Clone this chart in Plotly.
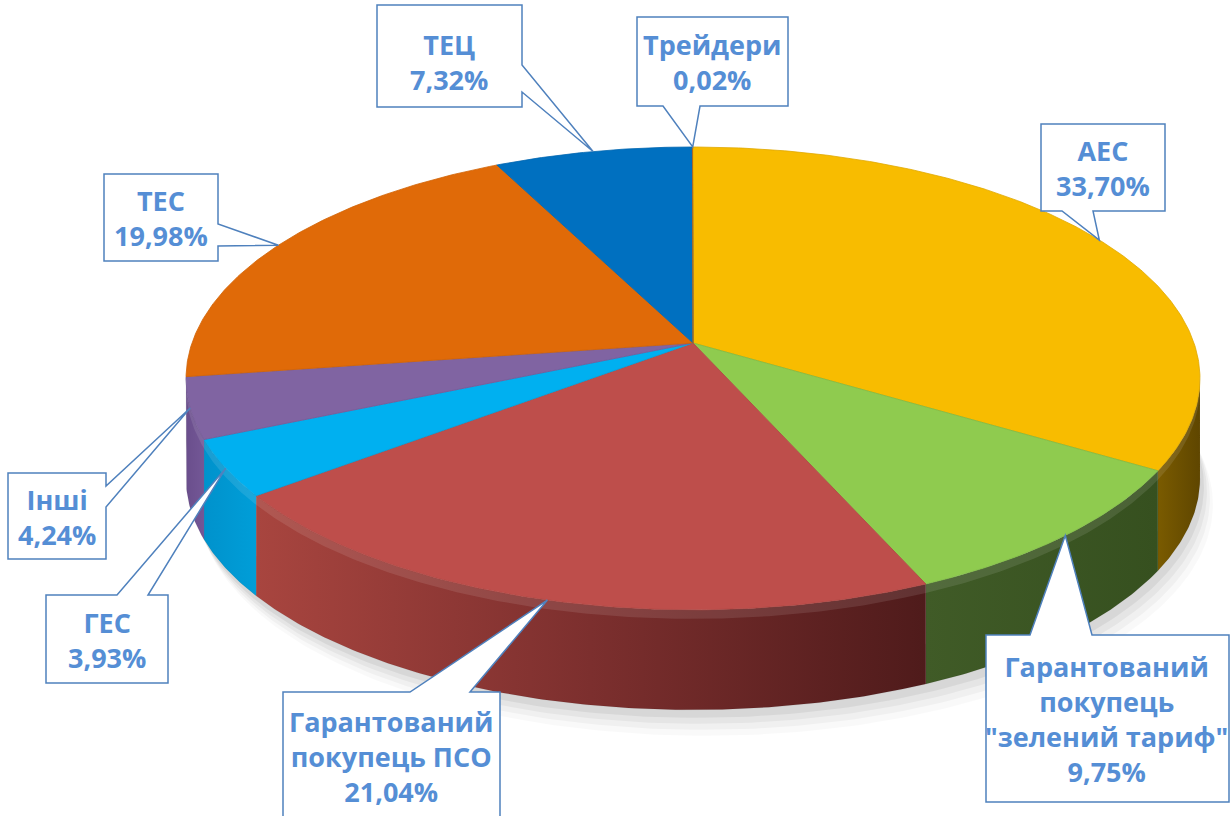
import numpy as np
import plotly.graph_objects as go

# ---------------- data ----------------
categories = ["АЕС", "Гарантований покупець \"зелений тариф\"", "Гарантований покупець ПСО",
              "ГЕС", "Інші", "ТЕС", "ТЕЦ", "Трейдери"]
display_names = ["АЕС", "Гарантований<br>покупець<br>\"зелений тариф\"", "Гарантований<br>покупець ПСО",
                 "ГЕС", "Інші", "ТЕС", "ТЕЦ", "Трейдери"]
shares = [33.70, 9.75, 21.04, 3.93, 4.24, 19.98, 7.32, 0.02]

# ---------------- styles ----------------
top_colors = ["#F8BC00", "#8FCB4F", "#BE4E4B", "#00B0F0", "#8064A2", "#E06A08", "#0070C0", "#C07020"]
wall_scales = [
    [[0, "#7a5b00"], [1, "#5f4600"]],
    [[0, "#405b27"], [1, "#36501f"]],
    [[0, "#a8453f"], [0.5, "#7c2f2e"], [1, "#4f1b1b"]],
    [[0, "#0092cc"], [1, "#009ed8"]],
    [[0, "#6a4e8c"], [1, "#735796"]],
    [[0, "#b05206"], [1, "#b05206"]],
    [[0, "#005a9a"], [1, "#005a9a"]],
    [[0, "#8a3a38"], [1, "#8a3a38"]],
]
edge_colors = ["#e0a800", "#7fbb44", "#b04643", "#00a2dd", "#755a98", "#d06306", "#0066b0", "#b06a20"]

TEXT_COLOR = "#558ED5"
BOX_LINE = "#4F81BD"
FONT = "Open Sans"

# geometry (layout)
W, H = 1231, 816
CX, CY = 693, 343
RX, RY = 501, 226
K = 0.153
DEPTH = 100


def proj(theta_deg, r=1.0):
    t = np.radians(theta_deg)
    u = r * np.sin(t)
    v = r * np.cos(t)
    d = 1 + K * v
    return CX + RX * u / d, CY - RY * v / d


# callout boxes: x0, y0, x1, y1, side of pointer, pointer base (p0, p1)
boxes = [
    (1041, 124, 1165, 211, "bottom", (1062, 1093)),
    (986, 635, 1229, 802, "top", (1030, 1092)),
    (283, 692, 500, 840, "top", (410, 470)),
    (46, 595, 168, 683, "top", (117, 148)),
    (8, 473, 106, 559, "right", (486, 507)),
    (104, 174, 218, 261, "right", (224, 246)),
    (377, 5, 522, 107, "right", (65, 92)),
    (637, 17, 788, 106, "bottom", (663, 700)),
]
text_pos = [(1103, 168), (1106, 719), (391, 756), (107, 640), (57, 517), (161, 218), (449, 62), (712, 62)]

fig = go.Figure()

bounds = np.concatenate([[0], np.cumsum(shares)]) / sum(shares) * 360.0

# soft shadow under the pie
th_all = np.linspace(80, 280, 201)
for off, alpha in [(26, 0.025), (20, 0.035), (14, 0.045), (8, 0.06)]:
    xs, ys = proj(th_all)
    sx = np.concatenate([xs + off * 0.5, xs[::-1]])
    sy = np.concatenate([ys + DEPTH + off, (ys + DEPTH - 40)[::-1]])
    fig.add_trace(go.Scatter(x=sx, y=sy, mode="lines", fill="toself",
                             fillcolor=f"rgba(0,0,0,{alpha})", line=dict(width=0),
                             hoverinfo="skip", showlegend=False))

# visible outer-wall range (silhouette)
sil = np.degrees(np.arccos(-K))
lo, hi = sil, 360 - sil

# walls
for i in range(len(shares)):
    a, b = bounds[i], bounds[i + 1]
    a2, b2 = max(a, lo), min(b, hi)
    if a2 >= b2:
        continue
    th = np.linspace(a2, b2, max(3, int((b2 - a2) * 2)))
    xs, ys = proj(th)
    px = np.concatenate([xs, xs[::-1]])
    py = np.concatenate([ys, (ys + DEPTH)[::-1]])
    fig.add_trace(go.Scatter(x=px, y=py, mode="lines", fill="toself",
                             fillgradient=dict(type="horizontal", colorscale=wall_scales[i]),
                             line=dict(width=0.6, color="rgba(0,0,0,0.12)"),
                             hoverinfo="skip", showlegend=False))
    # bevel highlight just under the rim
    bx = np.concatenate([xs, xs[::-1]])
    by = np.concatenate([ys, (ys + 9)[::-1]])
    fig.add_trace(go.Scatter(x=bx, y=by, mode="lines", fill="toself",
                             fillcolor="rgba(255,255,255,0.10)", line=dict(width=0),
                             hoverinfo="skip", showlegend=False))

# top faces
for i in range(len(shares)):
    a, b = bounds[i], bounds[i + 1]
    th = np.linspace(a, b, max(3, int((b - a) * 2)))
    xs, ys = proj(th)
    px = np.concatenate([[CX], xs, [CX]])
    py = np.concatenate([[CY], ys, [CY]])
    fig.add_trace(go.Scatter(x=px, y=py, mode="lines", fill="toself",
                             fillcolor=top_colors[i],
                             line=dict(width=0.8, color=edge_colors[i]),
                             name=categories[i], hoverinfo="skip", showlegend=False))

# callouts
shapes = []
annotations = []
for i in range(len(shares)):
    mid = (bounds[i] + bounds[i + 1]) / 2
    tx, ty = proj(mid)
    x0, y0, x1, y1, side, (p0, p1) = boxes[i]
    if side == "right":
        path = f"M {x0},{y0} L {x1},{y0} L {x1},{p0} L {tx},{ty} L {x1},{p1} L {x1},{y1} L {x0},{y1} Z"
    elif side == "bottom":
        path = f"M {x0},{y0} L {x1},{y0} L {x1},{y1} L {p1},{y1} L {tx},{ty} L {p0},{y1} L {x0},{y1} Z"
    else:
        path = f"M {x0},{y0} L {p0},{y0} L {tx},{ty} L {p1},{y0} L {x1},{y0} L {x1},{y1} L {x0},{y1} Z"
    shapes.append(dict(type="path", path=path, xref="x", yref="y",
                       fillcolor="white", line=dict(color=BOX_LINE, width=1.5), layer="above"))
    pct = f"{shares[i]:.2f}".replace(".", ",") + "%"
    annotations.append(dict(x=text_pos[i][0], y=text_pos[i][1], xref="x", yref="y",
                            text=f"<b>{display_names[i]}<br>{pct}</b>", showarrow=False,
                            font=dict(family=FONT, size=27, color=TEXT_COLOR),
                            align="center", xanchor="center", yanchor="middle"))

fig.update_layout(
    width=W, height=H,
    margin=dict(l=0, r=0, t=0, b=0),
    paper_bgcolor="white", plot_bgcolor="white",
    xaxis=dict(range=[0, W], visible=False, fixedrange=True),
    yaxis=dict(range=[H, 0], visible=False, fixedrange=True),
    shapes=shapes, annotations=annotations,
    showlegend=False,
)

fig.write_html("out.html", config={"displayModeBar": False},
               post_script="document.body.style.margin='0';document.body.style.overflow='hidden';")
